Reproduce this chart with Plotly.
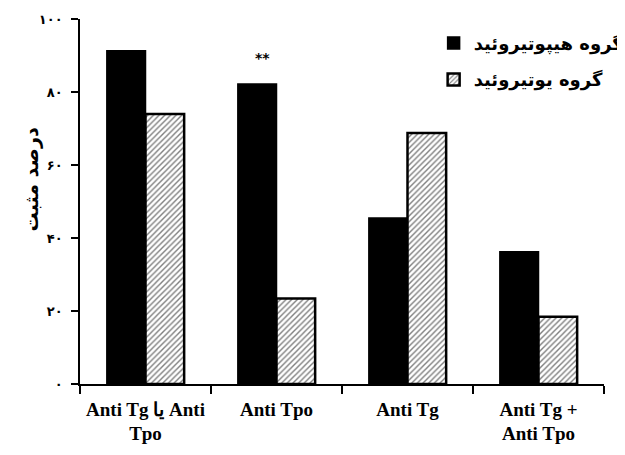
import plotly.graph_objects as go

categories = ["Anti Tg یا Anti<br>Tpo", "Anti Tpo", "Anti Tg", "Anti Tg +<br>Anti Tpo"]
hypo = [91.3, 82.2, 45.5, 36.2]
euthy = [74.0, 23.4, 68.8, 18.4]
series_names = ["گروه هیپوتیروئید", "گروه یوتیروئید"]
ytick_vals = [0, 20, 40, 60, 80, 100]
ytick_text = ["۰", "۲۰", "۴۰", "۶۰", "۸۰", "۱۰۰"]
y_title = "درصد مثبت"
signif = "**"

fig = go.Figure()
fig.add_trace(go.Bar(
    x=categories, y=hypo, name=series_names[0],
    marker=dict(color="black", line=dict(color="black", width=1.5)),
    legendgroup="a",
))
fig.add_trace(go.Bar(
    x=categories, y=euthy, name=series_names[1],
    marker=dict(color="white", line=dict(color="black", width=2.5),
                pattern=dict(shape="/", fgcolor="black", bgcolor="white",
                             size=4, solidity=0.35)),
    legendgroup="b",
))

fig.add_annotation(x=categories[1], y=hypo[1] + 7, text="<b>" + signif + "</b>",
                   showarrow=False, xshift=-14,
                   font=dict(family="DejaVu Sans", size=14, color="black"))

fig.add_annotation(xref="paper", yref="paper", x=-0.092, y=0.56,
                   xanchor="center", yanchor="middle",
                   text="<b>" + y_title + "</b>", textangle=-90, showarrow=False,
                   font=dict(family="DejaVu Sans", size=19, color="black"))

fig.update_layout(
    width=625, height=455,
    margin=dict(l=72, r=29, t=11, b=79, autoexpand=False),
    paper_bgcolor="white", plot_bgcolor="white",
    barmode="group", bargap=0.41, bargroupgap=0,
    showlegend=True,
    legend=dict(x=1.047, xanchor="right", y=0.984, yanchor="top",
                font=dict(family="DejaVu Sans", size=18, color="black", weight="bold"),
                tracegroupgap=10, traceorder="grouped", itemwidth=30,
                bgcolor="rgba(0,0,0,0)"),
    xaxis=dict(
        type="category", showline=True, linecolor="black", linewidth=1.5,
        ticks="outside", tickson="boundaries", ticklen=8, tickcolor="black",
        tickwidth=1.5, tickangle=0,
        tickfont=dict(family="Liberation Serif", size=19, color="black", weight="bold"),
        ticklabelstandoff=7,
        showgrid=False, zeroline=False,
    ),
    yaxis=dict(
        range=[0, 100], tickvals=ytick_vals, ticktext=ytick_text,
        showline=True, linecolor="black", linewidth=1.5,
        ticks="outside", ticklen=7, tickcolor="black", tickwidth=1.5,
        tickfont=dict(family="DejaVu Sans", size=13, color="black", weight="bold"),
        ticklabelstandoff=6,
        showgrid=False, zeroline=False,
    ),
)

fig.write_html("out.html")
